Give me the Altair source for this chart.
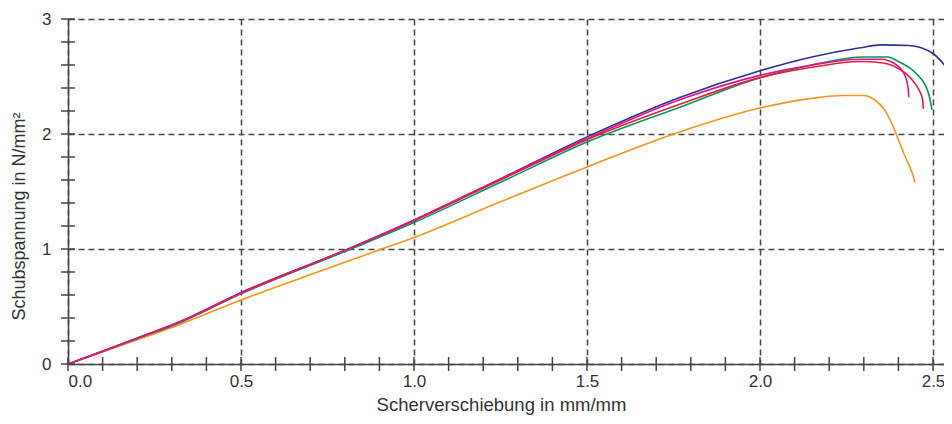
import altair as alt
import pandas as pd

# ---- data ----
blue_x = [0, 0.1, 0.2, 0.32, 0.5, 0.81, 1.0, 1.25, 1.5, 1.77, 2.0, 2.15, 2.29, 2.35, 2.43, 2.5, 2.55, 2.6]
blue_y = [0, 0.11, 0.225, 0.36, 0.62, 1.0, 1.25, 1.61, 1.975, 2.32, 2.55, 2.67, 2.75, 2.775, 2.77, 2.70, 2.54, 2.35]

green_x = [0, 0.1, 0.2, 0.32, 0.5, 0.81, 1.0, 1.25, 1.5, 1.77, 2.0, 2.15, 2.3, 2.37, 2.40, 2.45, 2.48, 2.49, 2.497]
green_y = [0, 0.11, 0.22, 0.355, 0.61, 0.99, 1.23, 1.58, 1.93, 2.235, 2.49, 2.60, 2.67, 2.67, 2.63, 2.53, 2.41, 2.32, 2.21]

red_x = [0, 0.1, 0.2, 0.32, 0.5, 0.81, 1.0, 1.25, 1.5, 1.77, 2.0, 2.15, 2.29, 2.35, 2.40, 2.44, 2.46, 2.47, 2.472]
red_y = [0, 0.11, 0.225, 0.36, 0.615, 1.0, 1.245, 1.60, 1.95, 2.26, 2.49, 2.58, 2.63, 2.62, 2.57, 2.47, 2.38, 2.30, 2.22]

pink_x = [0, 0.1, 0.2, 0.32, 0.5, 0.81, 1.0, 1.25, 1.5, 1.77, 2.0, 2.15, 2.29, 2.35, 2.395, 2.42, 2.428, 2.43]
pink_y = [0, 0.11, 0.225, 0.365, 0.62, 1.0, 1.252, 1.61, 1.96, 2.30, 2.51, 2.60, 2.65, 2.65, 2.60, 2.50, 2.40, 2.32]

orange_x = [0, 0.1, 0.2, 0.32, 0.5, 0.75, 0.907, 1.0, 1.25, 1.5, 1.769, 2.0, 2.15, 2.24, 2.30, 2.33, 2.36, 2.38, 2.40, 2.42, 2.44, 2.448]
orange_y = [0, 0.105, 0.21, 0.34, 0.557, 0.83, 1.0, 1.10, 1.41, 1.713, 2.02, 2.226, 2.31, 2.335, 2.335, 2.30, 2.21, 2.10, 1.95, 1.80, 1.66, 1.58]

series = [
    ("orange", orange_x, orange_y, "#f7941d"),
    ("blue", blue_x, blue_y, "#2e3192"),
    ("green", green_x, green_y, "#00995a"),
    ("red", red_x, red_y, "#e2203a"),
    ("pink", pink_x, pink_y, "#e0148a"),
]

x_ticks = [round(i * 0.1, 1) for i in range(0, 26)]
y_ticks = [round(i * 0.2, 1) for i in range(0, 16)]
x_labels = [0.0, 0.5, 1.0, 1.5, 2.0, 2.5]
y_labels = [0, 1, 2, 3]

PLOT_W = 876
X_MAX = PLOT_W / 346.0
FONT = "Liberation Sans"
AX = "#444444"
TXT = "#333333"

xscale = alt.Scale(domain=[0, X_MAX], nice=False, zero=False)
yscale = alt.Scale(domain=[0, 3], nice=False, zero=False)

x_axis = alt.Axis(
    values=x_labels, format=".1f", grid=True, gridDash=[6, 4], gridColor=AX, gridWidth=1.5,
    gridOpacity=1, domain=True, domainColor=AX, domainWidth=1.5, ticks=False, tickSize=0,
    labelPadding=9, labelFont=FONT, labelFontSize=17, labelColor=TXT,
    title="Scherverschiebung in mm/mm", titleFont=FONT, titleFontSize=18.5,
    titleFontWeight="normal", titleColor=TXT, titleX=433, titleY=46,
    titleBaseline="alphabetic", titleAnchor="middle", titleAlign="center",
)
y_axis = alt.Axis(
    values=y_labels, format="d", grid=True, gridDash=[6, 4], gridColor=AX, gridWidth=1.5,
    gridOpacity=1, domain=True, domainColor=AX, domainWidth=1.5, ticks=False, tickSize=0,
    labelPadding=17, labelFont=FONT, labelFontSize=17, labelColor=TXT,
    title="Schubspannung in N/mm²", titleFont=FONT, titleFontSize=18,
    titleFontWeight="normal", titleColor=TXT, titleX=-44, titleY=197,
    titleBaseline="alphabetic", titleAngle=270, titleAlign="center",
)

base_df = pd.DataFrame({"x": [0, X_MAX], "y": [0, 3]})
base = alt.Chart(base_df).mark_point(opacity=0).encode(
    x=alt.X("x:Q", scale=xscale, axis=x_axis),
    y=alt.Y("y:Q", scale=yscale, axis=y_axis),
)

layers = [base]
for name, xs, ys, col in series:
    df = pd.DataFrame({"x": xs, "y": ys, "i": list(range(len(xs)))})
    layers.append(
        alt.Chart(df).mark_line(color=col, strokeWidth=1.6, clip=True, interpolate="monotone").encode(
            x=alt.X("x:Q", scale=xscale),
            y=alt.Y("y:Q", scale=yscale),
            order="i:Q",
        )
    )

xt = pd.DataFrame({"t": x_ticks})
layers.append(
    alt.Chart(xt).mark_rule(color=AX, strokeWidth=1.5).encode(
        x=alt.X("t:Q", scale=xscale), y=alt.value(338), y2=alt.value(352)
    )
)
yt = pd.DataFrame({"t": y_ticks})
layers.append(
    alt.Chart(yt).mark_rule(color=AX, strokeWidth=1.5).encode(
        y=alt.Y("t:Q", scale=yscale), x=alt.value(-7), x2=alt.value(7)
    )
)

chart = alt.layer(*layers).properties(
    width=PLOT_W, height=345,
    autosize=alt.AutoSizeParams(type="none"),
    padding={"left": 60, "top": 11, "right": 0, "bottom": 52},
    background="white",
).configure_view(stroke=None)

chart.save("out.html", embed_options={"renderer": "svg", "actions": False})
